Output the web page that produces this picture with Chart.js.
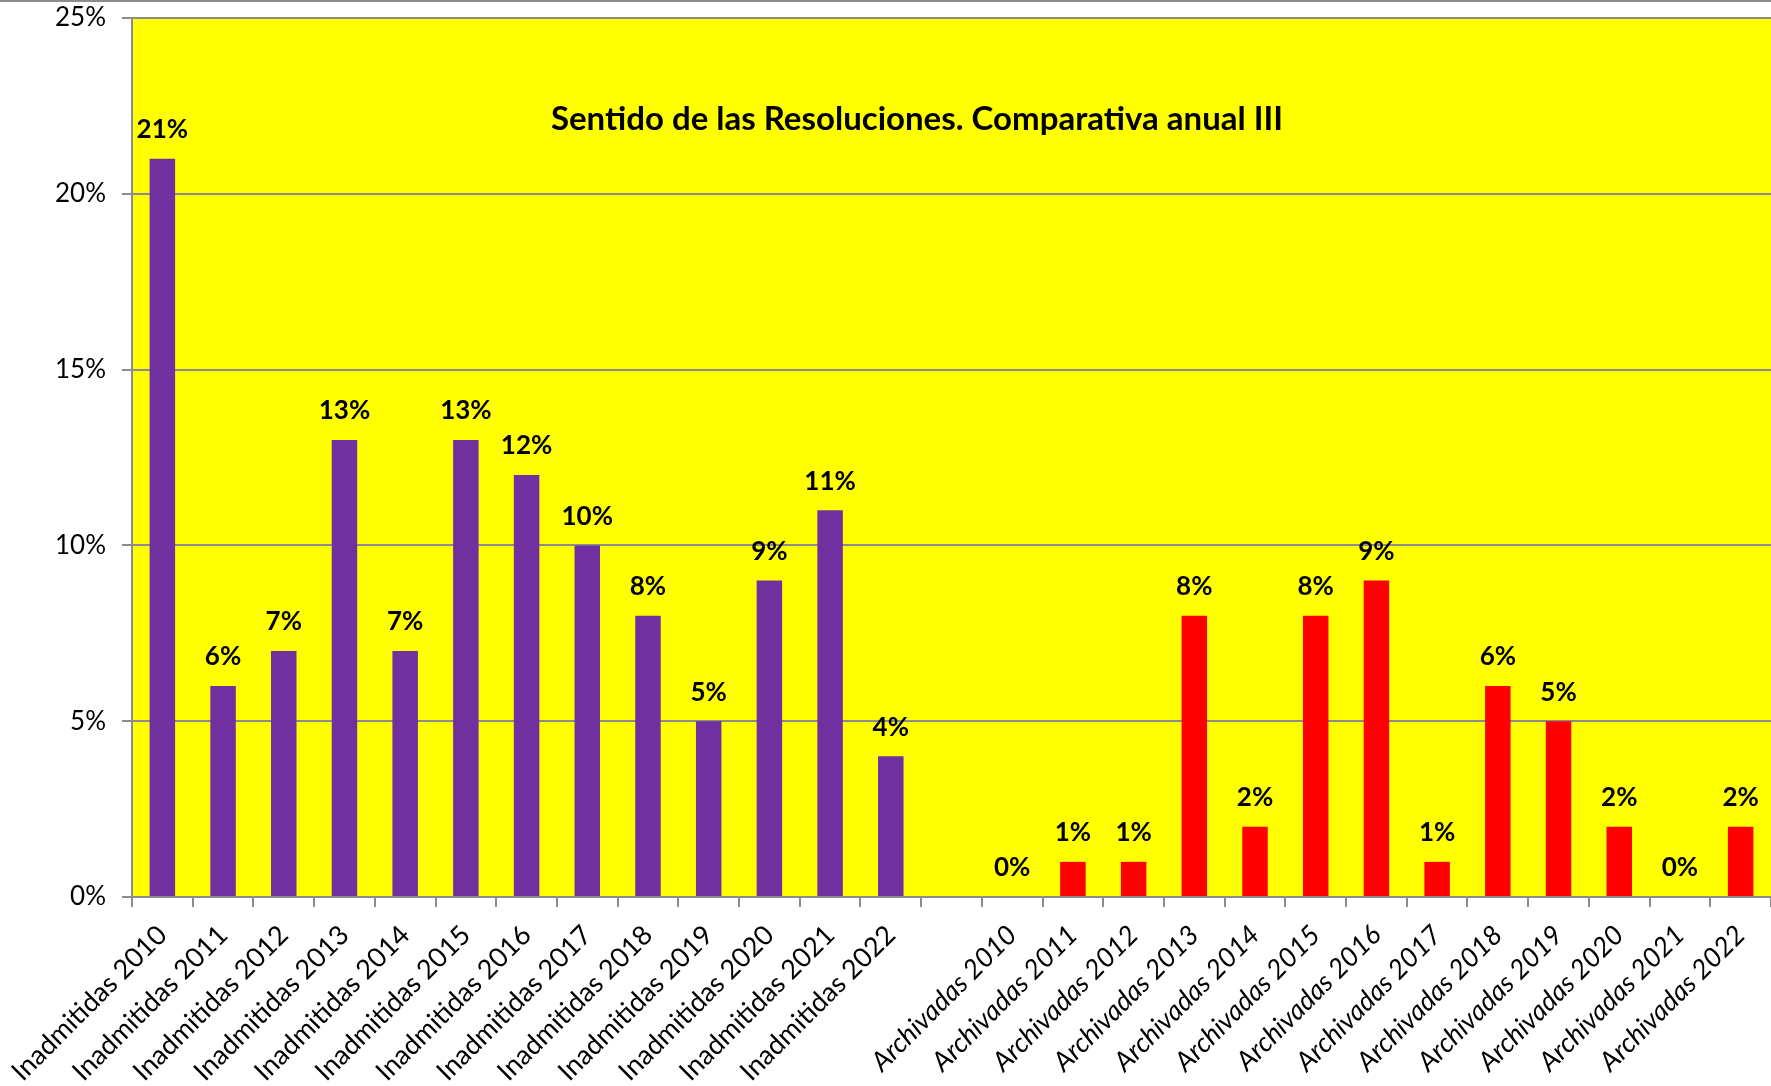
<!DOCTYPE html>
<html>
<head>
<meta charset="utf-8">
<script src="https://cdn.jsdelivr.net/npm/chart.js@4/dist/chart.umd.min.js"></script>
<style>
  html, body { margin: 0; padding: 0; background: #fff; }
  #wrap { width: 1771px; height: 1086px; position: relative; }
</style>
</head>
<body>
<div id="wrap"><canvas id="chart"></canvas></div>
<script>
const FONT = 'Lato, "Open Sans", sans-serif';

// Data
const years = ['2010', '2011', '2012', '2013', '2014', '2015', '2016', '2017', '2018', '2019', '2020', '2021', '2022'];
const inadmitidas = [21, 6, 7, 13, 7, 13, 12, 10, 8, 5, 9, 11, 4];
const archivadas = [0, 1, 1, 8, 2, 8, 9, 1, 6, 5, 2, 0, 2];
const yTicks = [0, 5, 10, 15, 20, 25];
const chartTitle = 'Sentido de las Resoluciones. Comparativa anual III';

const PURPLE = '#7030A0';
const RED = '#FF0000';

const labels = [
    ...years.map(y => 'Inadmitidas ' + y),
    '',
    ...years.map(y => 'Archivadas ' + y)
];
const values = [...inadmitidas, null, ...archivadas];
const colors = [...inadmitidas.map(() => PURPLE), 'transparent', ...archivadas.map(() => RED)];
const firstArch = inadmitidas.length + 1;

// yellow plot area + top border line + title
const backdrop = {
    id: 'backdrop',
    beforeDraw(chart) {
        const { ctx, chartArea: a } = chart;
        ctx.save();
        ctx.fillStyle = '#FFFF00';
        ctx.fillRect(a.left, a.top, a.right - a.left, a.bottom - a.top);
        ctx.fillStyle = '#8c8c8c';
        ctx.fillRect(0, 0, chart.width, 2);
        ctx.restore();
    },
    afterDraw(chart) {
        const { ctx } = chart;
        ctx.save();
        ctx.fillStyle = '#000';
        ctx.font = 'bold 33px ' + FONT;
        ctx.textAlign = 'center';
        ctx.textBaseline = 'middle';
        ctx.fillText(chartTitle, 917, 119);
        ctx.restore();
    }
};

// value labels above each bar
const valueLabels = {
    id: 'valueLabels',
    afterDatasetsDraw(chart) {
        const { ctx } = chart;
        const meta = chart.getDatasetMeta(0);
        ctx.save();
        ctx.fillStyle = '#000';
        ctx.font = 'bold 26px ' + FONT;
        ctx.textAlign = 'center';
        ctx.textBaseline = 'bottom';
        meta.data.forEach((bar, i) => {
            const v = values[i];
            if (v === null) return;
            ctx.fillText(v + '%', bar.x, bar.y - 16);
        });
        ctx.restore();
    }
};

new Chart(document.getElementById('chart'), {
    type: 'bar',
    data: {
        labels,
        datasets: [{
            data: values,
            backgroundColor: colors,
            borderWidth: 0,
            barPercentage: 0.42,
            categoryPercentage: 1
        }]
    },
    options: {
        responsive: true,
        maintainAspectRatio: false,
        animation: false,
        layout: { padding: { top: 18, right: 0, left: 0, bottom: 0 } },
        plugins: {
            legend: { display: false },
            tooltip: { enabled: false },
            title: { display: false }
        },
        scales: {
            x: {
                offset: true,
                grid: {
                    offset: true,
                    drawOnChartArea: false,
                    drawTicks: true,
                    tickLength: 10,
                    color: '#8c8c8c',
                    lineWidth: 2
                },
                border: { color: '#8c8c8c', width: 2 },
                ticks: {
                    autoSkip: false,
                    maxRotation: 45,
                    minRotation: 45,
                    color: '#000',
                    padding: 12,
                    font: ctx => ({
                        family: FONT,
                        size: 27,
                        style: ctx.index >= firstArch ? 'italic' : 'normal'
                    })
                },
                afterFit(scale) {
                    scale.height = 189;
                    scale.paddingLeft = 0;
                    scale.paddingRight = 0;
                }
            },
            y: {
                min: 0,
                max: 25,
                afterBuildTicks(scale) { scale.ticks = yTicks.map(v => ({ value: v })); },
                grid: {
                    color: '#8c8c8c',
                    lineWidth: 2,
                    tickLength: 10
                },
                border: { color: '#8c8c8c', width: 2 },
                ticks: {
                    color: '#000',
                    padding: 16,
                    font: { family: FONT, size: 26 },
                    callback: v => v + '%'
                },
                afterFit(scale) {
                    scale.width = 132;
                    scale.paddingTop = 0;
                    scale.paddingBottom = 0;
                }
            }
        }
    },
    plugins: [backdrop, valueLabels]
});
</script>
</body>
</html>
